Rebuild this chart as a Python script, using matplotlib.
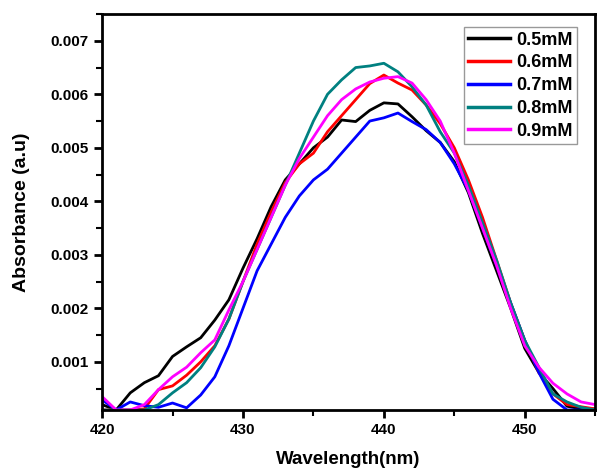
import numpy as np
import matplotlib
matplotlib.use("Agg")
from matplotlib import pyplot as plt
from matplotlib.ticker import MultipleLocator

plt.rcParams['font.family'] = ['Liberation Sans', 'DejaVu Sans']
plt.rcParams['font.weight'] = 'bold'

wavelength = list(range(420, 456))

abs_05 = [0.0002, 0.0001, 0.00042, 0.00061, 0.00074, 0.0011, 0.00128, 0.00145, 0.00178,
          0.00216, 0.00275, 0.0033, 0.0039, 0.0044, 0.0047, 0.0050, 0.0052, 0.00552,
          0.00549, 0.0057, 0.00584, 0.00582, 0.00558, 0.00532, 0.0051, 0.00474, 0.00416,
          0.0034, 0.0027, 0.0020, 0.00125, 0.0008, 0.0005, 0.00017, 0.00012, 0.00012]
abs_06 = [0.0001, 0.0001, 0.0001, 0.00012, 0.00048, 0.00055, 0.00075, 0.001, 0.0013,
          0.0018, 0.0025, 0.0032, 0.0038, 0.00435, 0.0047, 0.0049, 0.0053, 0.0056,
          0.0059, 0.0062, 0.00636, 0.00621, 0.00608, 0.0058, 0.00545, 0.005, 0.0044,
          0.0037, 0.0029, 0.0021, 0.0014, 0.0008, 0.0004, 0.0002, 0.00016, 0.00012]
abs_07 = [0.00029, 0.0001, 0.00025, 0.00018, 0.00015, 0.00023, 0.00014, 0.00038, 0.00072,
          0.0013, 0.0020, 0.0027, 0.0032, 0.0037, 0.0041, 0.0044, 0.0046, 0.0049,
          0.0052, 0.0055, 0.00556, 0.00565, 0.00549, 0.00534, 0.0051, 0.0047, 0.0042,
          0.0035, 0.0028, 0.0021, 0.0014, 0.0008, 0.0003, 0.0001, 0.0001, 0.0001]
abs_08 = [0.0001, 0.0001, 0.0001, 0.0001, 0.0002, 0.00042, 0.00061, 0.00089, 0.00128,
          0.0018, 0.0025, 0.0031, 0.0037, 0.0043, 0.0049, 0.0055, 0.006, 0.00627,
          0.0065, 0.00653, 0.00658, 0.00642, 0.00614, 0.0058, 0.0053, 0.0049, 0.0043,
          0.0036, 0.0029, 0.0021, 0.0014, 0.0009, 0.0004, 0.00025, 0.00015, 0.0001]
abs_09 = [0.00035, 0.0001, 0.0001, 0.0002, 0.00048, 0.00072, 0.0009, 0.00117, 0.00141,
          0.00197, 0.0025, 0.0031, 0.0037, 0.0043, 0.0048, 0.0052, 0.0056, 0.0059,
          0.0061, 0.00623, 0.0063, 0.00633, 0.00621, 0.0059, 0.0055, 0.0049, 0.0042,
          0.0035, 0.0028, 0.0020, 0.0013, 0.0009, 0.0006, 0.0004, 0.00025, 0.0002]

labels = ['0.5mM', '0.6mM', '0.7mM', '0.8mM', '0.9mM']
colors = ['black', '#ff0000', '#0000ff', '#008080', '#ff00ff']
series = [abs_05, abs_06, abs_07, abs_08, abs_09]

fig = plt.figure(figsize=(5.97, 4.68), dpi=100)
ax = fig.add_axes([0.171, 0.124, 0.826, 0.846])

for y, c, lab in zip(series, colors, labels):
    ax.plot(wavelength, y, color=c, lw=2, label=lab)

ax.set_xlim(420, 455)
ax.set_ylim(0.0001, 0.0075)
ax.xaxis.set_major_locator(MultipleLocator(10))
ax.xaxis.set_minor_locator(MultipleLocator(5))
ax.set_yticks([0.001, 0.002, 0.003, 0.004, 0.005, 0.006, 0.007])
ax.yaxis.set_minor_locator(MultipleLocator(0.0005))
ax.tick_params(which='major', direction='out', length=6, width=2, labelsize=11)
ax.tick_params(which='minor', direction='out', length=4, width=1.5)
for lab in ax.get_xticklabels() + ax.get_yticklabels():
    lab.set_fontweight('bold')
for s in ax.spines.values():
    s.set_linewidth(2)

ax.set_xlabel('Wavelength(nm)', fontsize=13.5, fontweight='bold', labelpad=10)
ax.set_ylabel('Absorbance (a.u)', fontsize=14, fontweight='bold', labelpad=15)

leg = ax.legend(loc='upper right', fontsize=13, frameon=True, fancybox=False,
                edgecolor='gray', handlelength=2.3, handletextpad=0.35,
                labelspacing=0.32, borderpad=0.25, borderaxespad=0,
                bbox_to_anchor=(0.963, 0.967))
for h in leg.get_lines():
    h.set_linewidth(2.5)
leg.get_frame().set_linewidth(1)

fig.savefig('out.png', dpi=100)
